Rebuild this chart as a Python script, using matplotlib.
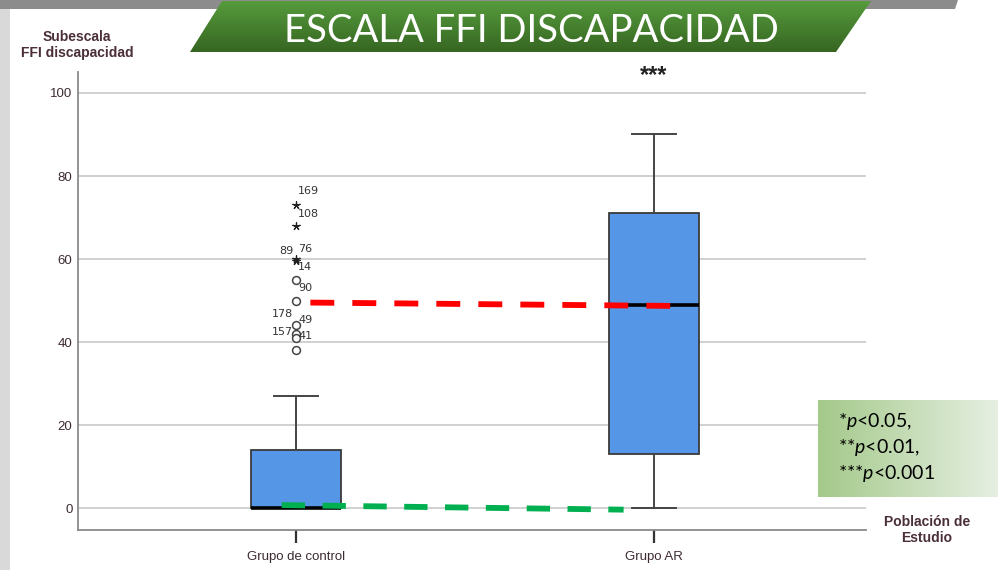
import numpy as np
import matplotlib
matplotlib.use('Agg')
import matplotlib.pyplot as plt
from matplotlib.patches import Polygon, Rectangle

plt.rcParams['font.family'] = ['Liberation Sans', 'DejaVu Sans']
plt.rcParams['mathtext.fontset'] = 'custom'
plt.rcParams['mathtext.rm'] = 'Lato'
plt.rcParams['mathtext.it'] = 'Lato:italic'

# --- data -------------------------------------------------------------
groups = ["Grupo de control", "Grupo AR"]
q1 = [0, 13]
med = [0, 49]
q3 = [14, 71]
whislo = [0, 0]
whishi = [27, 90]

# control group outliers (circles) and extremes (stars), with case ids
out_vals = [55, 50, 44, 42, 41, 38]
out_ids = ["14", "90", "178", "49", "157", "41"]
ext_vals = [73, 68, 60, 59.4]
ext_ids = ["169", "108", "89", "76"]

# hand-drawn trend lines between groups
red_x = [0.04, 1.045]
red_y = [49.5, 48.7]
green_x = [-0.04, 0.915]
green_y = [0.7, -0.4]

TXT = "#3d2b31"

fig = plt.figure(figsize=(9.98, 5.70), dpi=100)

# background layer in pixel coordinates
bg = fig.add_axes([0, 0, 1, 1], zorder=0)
bg.set_xlim(0, 998)
bg.set_ylim(570, 0)
bg.axis("off")
bg.add_patch(Polygon([(0, 0), (958, 0), (955, 9), (0, 9)], closed=True,
                     facecolor="#8c8c8c", edgecolor="none"))
bg.add_patch(Rectangle((0, 9), 10, 561, facecolor="#d9d9d9", edgecolor="none"))

# green title banner with vertical gradient
banner = Polygon([(222, 1), (871, 1), (836, 52), (190, 52)], closed=True,
                 facecolor="none", edgecolor="none")
bg.add_patch(banner)
grad = np.linspace(0, 1, 64).reshape(-1, 1)
top_c = np.array([0x56, 0x9b, 0x3c]) / 255
bot_c = np.array([0x36, 0x66, 0x22]) / 255
img = top_c + (bot_c - top_c) * grad[:, :, None]
im = bg.imshow(img, extent=(190, 871, 52, 1), aspect="auto", interpolation="bilinear",
               zorder=1)
im.set_clip_path(banner)
bg.set_xlim(0, 998)
bg.set_ylim(570, 0)
bg.text(531, 42, "ESCALA FFI DISCAPACIDAD", color="white", fontsize=27.5,
        fontfamily="Lato", fontweight="normal", ha="center", va="baseline", zorder=5)

# --- main chart -------------------------------------------------------
ax = fig.add_axes([78 / 998, 1 - 530 / 570, (866 - 78) / 998, (530 - 72) / 570], zorder=1)
ax.set_facecolor("none")

stats = []
for i, g in enumerate(groups):
    stats.append(dict(label=g, q1=q1[i], med=med[i], q3=q3[i],
                      whislo=whislo[i], whishi=whishi[i], fliers=[]))

ax.bxp(stats, positions=[0, 1], widths=0.25, showfliers=False, patch_artist=True,
       boxprops=dict(facecolor="#5596e6", edgecolor="#3a3a3a", linewidth=1.3),
       medianprops=dict(color="black", linewidth=2.6),
       whiskerprops=dict(color="#444444", linewidth=1.4),
       capprops=dict(color="#444444", linewidth=1.4),
       capwidths=0.125, zorder=3)

# outliers and extremes of the control group
ax.scatter(np.zeros(len(out_vals)), out_vals, s=32, facecolors="white",
           edgecolors="#444444", linewidths=1.1, zorder=4)
ax.scatter(np.zeros(len(ext_vals)), ext_vals, s=28, marker=(5, 2, 0),
           color="#222222", linewidths=0.9, zorder=4)

lab_off = {"169": (2, 9), "108": (2, 7), "89": (-17, 3), "76": (2, 7),
           "14": (2, 8), "90": (2, 8), "178": (-24, 6), "49": (2, 9),
           "157": (-24, 1), "41": (2, 9)}
for v, lab in zip(out_vals + ext_vals, out_ids + ext_ids):
    ax.annotate(lab, (0, v), xytext=lab_off[lab], textcoords="offset pixels",
                fontsize=8, color="#333333", fontfamily="DejaVu Sans",
                ha="left", va="bottom", zorder=5)

ax.plot(red_x, red_y, color="#ff0000", linewidth=4.2, dashes=(4.1, 3.1), zorder=6,
        dash_capstyle="butt")
ax.plot(green_x, green_y, color="#00b050", linewidth=4.2, dashes=(4.0, 3.0), zorder=6,
        dash_capstyle="butt")

ax.text(1, 104.3, "***", ha="center", va="center", fontsize=17,
        fontweight="bold", color="#222222")

ax.set_xlim(-0.609, 1.592)
ax.set_ylim(-5.3, 105.06)
ax.set_yticks(range(0, 101, 20))
ax.set_xticks([0, 1])
ax.set_xticklabels(groups)
ax.yaxis.grid(True, color="#c8c8c8", linewidth=1.2, zorder=0)
ax.set_axisbelow(True)
ax.tick_params(axis="y", length=0, pad=4, labelsize=9.5, labelcolor=TXT)
ax.tick_params(axis="x", length=9, width=1.6, color="#333333", pad=6,
               labelsize=9.5, labelcolor=TXT)
for s in ("top", "right"):
    ax.spines[s].set_visible(False)
for s in ("left", "bottom"):
    ax.spines[s].set_color("#8a8a8a")
    ax.spines[s].set_linewidth(1.3)

fig.text(77 / 998, 1 - 45 / 570, "Subescala\nFFI discapacidad", ha="center",
         va="center", fontsize=10, fontweight="bold", color="#4a2e38", linespacing=1.25)
fig.text(927 / 998, 1 - 530 / 570, "Población de\nEstudio", ha="center",
         va="center", fontsize=10, fontweight="bold", color="#4a2e38", linespacing=1.25)

# --- significance key with horizontal gradient ------------------------
fg = fig.add_axes([0, 0, 1, 1], zorder=2)
fg.axis("off")
hgrad = np.linspace(0, 1, 128).reshape(1, -1)
left_c = np.array([0xa4, 0xc9, 0x8a]) / 255
right_c = np.array([0xe6, 0xef, 0xe2]) / 255
kimg = left_c + (right_c - left_c) * hgrad[:, :, None]
fg.imshow(kimg, extent=(818, 998, 497, 400), aspect="auto", interpolation="bilinear")
fg.set_xlim(0, 998)
fg.set_ylim(570, 0)
for i, t in enumerate([r"*$p$<0.05,", r"**$p$<0.01,", r"***$p$<0.001"]):
    fg.text(838, 421 + 26 * i, t, fontsize=14, fontfamily="Lato", color="black",
            ha="left", va="center")

fig.savefig("out.png", dpi=100)
